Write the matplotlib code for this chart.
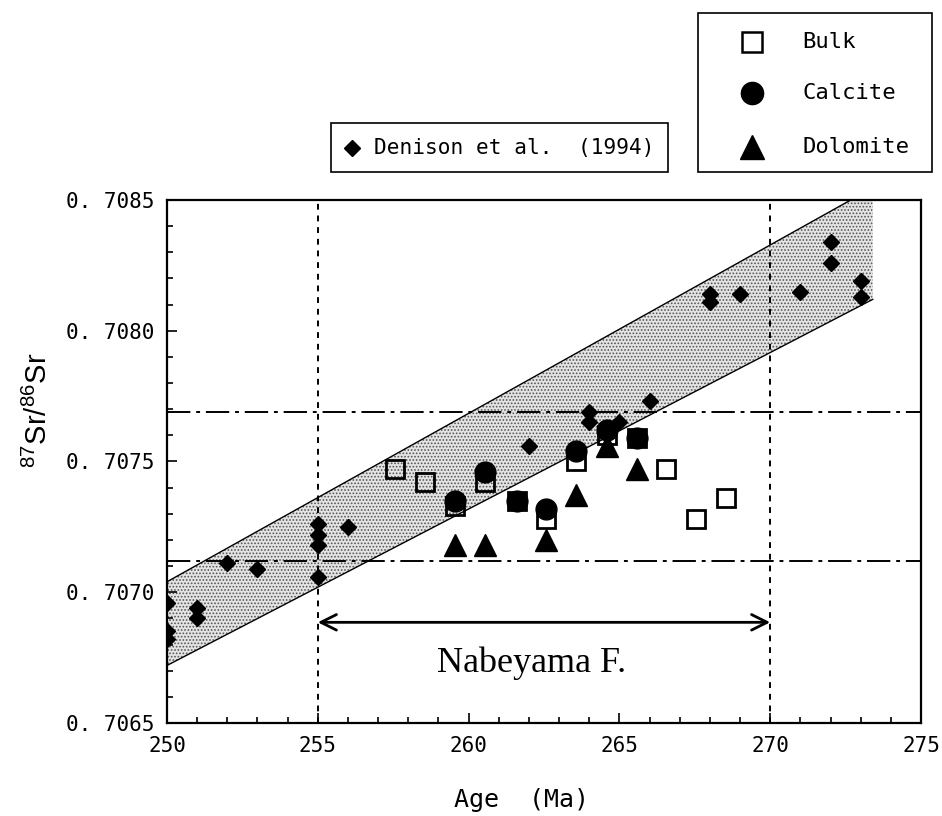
import matplotlib
matplotlib.use("Agg")
import matplotlib.pyplot as plt
from matplotlib.lines import Line2D
from matplotlib.patches import Rectangle, Polygon
from matplotlib.ticker import MultipleLocator, FuncFormatter

# ---------------- data ----------------
den_age = [250, 250, 250, 251, 251, 252, 253, 255, 255, 255, 255, 256, 262,
           264, 264, 265, 266, 268, 268, 269, 271, 272, 272, 273, 273]
den_sr = [0.70696, 0.70685, 0.70682, 0.70694, 0.70690, 0.70711, 0.70709,
          0.70726, 0.70722, 0.70718, 0.70706, 0.70725, 0.70756,
          0.70769, 0.70765, 0.70765, 0.70773, 0.70814, 0.70811, 0.70814,
          0.70815, 0.70834, 0.70826, 0.70819, 0.70813]

bulk_age = [257.55, 258.55, 259.55, 260.55, 261.6, 262.55, 263.55, 264.6,
            265.6, 266.55, 267.55, 268.55]
bulk_sr = [0.70747, 0.70742, 0.70733, 0.70742, 0.70735, 0.70728, 0.70750,
           0.70760, 0.70759, 0.70747, 0.70728, 0.70736]

calc_age = [259.55, 260.55, 261.6, 262.55, 263.55, 264.6, 265.6]
calc_sr = [0.70735, 0.70746, 0.70735, 0.70732, 0.70754, 0.70762, 0.70759]

dolo_age = [259.55, 260.55, 262.55, 263.55, 264.6, 265.6]
dolo_sr = [0.70718, 0.70718, 0.70720, 0.70737, 0.70756, 0.70747]

band_upper_age = [250, 272.67, 273.4]
band_upper_sr = [0.70704, 0.70850, 0.70850]
band_lower_age = [250, 273.4]
band_lower_sr = [0.70672, 0.70812]

ref_sr = [0.70769, 0.70712]      # dash-dot horizontal lines
ref_age = [255, 270]             # dotted vertical lines
nabeyama_sr = 0.706885
x_ticks = [250, 255, 260, 265, 270, 275]
y_ticks = [0.7065, 0.7070, 0.7075, 0.7080, 0.7085]

# ---------------- figure ----------------
plt.rcParams['font.family'] = ['DejaVu Sans Mono']
plt.rcParams['hatch.linewidth'] = 0.8
plt.rcParams['mathtext.fontset'] = 'custom'
plt.rcParams['mathtext.rm'] = 'Liberation Sans'
plt.rcParams['mathtext.it'] = 'Liberation Sans'

W, H = 942, 816
fig = plt.figure(figsize=(W / 100, H / 100), dpi=100)
ax = fig.add_axes([167 / W, 1 - 723 / H, (921 - 167) / W, (723 - 200) / H])
ax.set_xlim(250, 275)
ax.set_ylim(0.7065, 0.7085)

# band
poly_x = band_upper_age + band_lower_age[::-1]
poly_y = band_upper_sr + band_lower_sr[::-1]
ax.add_patch(Polygon(list(zip(poly_x, poly_y)), closed=True,
                     facecolor='#e4e4e4', edgecolor='#555555', hatch='.....',
                     linewidth=0, zorder=1))
ax.plot(band_upper_age[:2], band_upper_sr[:2], color='black', lw=1.0, zorder=2)
ax.plot(band_lower_age, band_lower_sr, color='black', lw=1.0, zorder=2)

# reference lines
for v in ref_sr:
    ax.axhline(v, color='black', lw=1.4, dashes=(12, 3, 2, 3), zorder=2)
for a in ref_age:
    ax.axvline(a, color='black', lw=1.4, dashes=(3, 3), zorder=2)

# arrow + label
ax.annotate('', xy=(ref_age[1], nabeyama_sr), xytext=(ref_age[0], nabeyama_sr),
            arrowprops=dict(arrowstyle='<->', lw=2.0, color='black',
                            mutation_scale=28, shrinkA=0, shrinkB=0), zorder=3)
ax.text(262.1, 0.70673, 'Nabeyama F.', family='Liberation Serif', fontsize=26,
        ha='center', va='center')

# data
ax.plot(den_age, den_sr, linestyle='none', marker='D', ms=8.5, color='black',
        zorder=4)
ax.plot(bulk_age, bulk_sr, linestyle='none', marker='s', ms=13.5,
        markerfacecolor='none', markeredgecolor='black', mew=2.0, zorder=5)
ax.plot(calc_age, calc_sr, linestyle='none', marker='o', ms=15, color='black',
        zorder=6)
ax.plot(dolo_age, dolo_sr, linestyle='none', marker='^', ms=16, color='black',
        zorder=7)

# axes styling
for s in ax.spines.values():
    s.set_linewidth(1.6)
ax.xaxis.set_major_locator(MultipleLocator(5))
ax.xaxis.set_minor_locator(MultipleLocator(1))
ax.yaxis.set_major_locator(MultipleLocator(0.0005))
ax.yaxis.set_minor_locator(MultipleLocator(0.0001))
ax.set_xticks(x_ticks)
ax.set_yticks(y_ticks)
ax.yaxis.set_major_formatter(FuncFormatter(lambda v, p: f'{v:.4f}'.replace('.', '. ')))
ax.xaxis.set_major_formatter(FuncFormatter(lambda v, p: f'{v:.0f}'))
ax.tick_params(which='both', direction='in', top=False, right=False,
               labelsize=15, width=1.2)
ax.tick_params(which='major', length=7, pad=9)
ax.tick_params(which='minor', length=4.5)

# axis labels
fig.text(521 / W, 1 - 800 / H, 'Age  (Ma)', fontsize=18, ha='center',
         va='center')
fig.text(38 / W, 1 - 410 / H, r'$^{87}$Sr/$^{86}$Sr', family='Liberation Sans',
         fontsize=21, rotation=90, ha='center', va='center')

# legend boxes (figure coordinates)
def fx(px):
    return px / W

def fy(py):
    return 1 - py / H

fig.patches.append(Rectangle((fx(331), fy(172)), fx(668) - fx(331),
                             fy(123) - fy(172), transform=fig.transFigure,
                             facecolor='white', edgecolor='black', lw=1.2))
fig.lines.append(Line2D([fx(352)], [fy(148)], transform=fig.transFigure,
                        marker='D', ms=8, color='black', linestyle='none'))
fig.text(fx(374), fy(148), 'Denison et al.  (1994)', fontsize=15.2,
         ha='left', va='center')

fig.patches.append(Rectangle((fx(698), fy(172)), fx(932) - fx(698),
                             fy(13) - fy(172), transform=fig.transFigure,
                             facecolor='white', edgecolor='black', lw=1.2))
leg_items = [('s', 'Bulk', 42, dict(markerfacecolor='white', mew=1.8, ms=14)),
             ('o', 'Calcite', 93, dict(markerfacecolor='black', ms=16)),
             ('^', 'Dolomite', 147, dict(markerfacecolor='black', ms=17))]
for m, lab, py, kw in leg_items:
    fig.lines.append(Line2D([fx(752)], [fy(py)], transform=fig.transFigure,
                            marker=m, color='black', linestyle='none', **kw))
    fig.text(fx(802), fy(py), lab, fontsize=16, ha='left', va='center')

fig.savefig('out.png', dpi=100)
